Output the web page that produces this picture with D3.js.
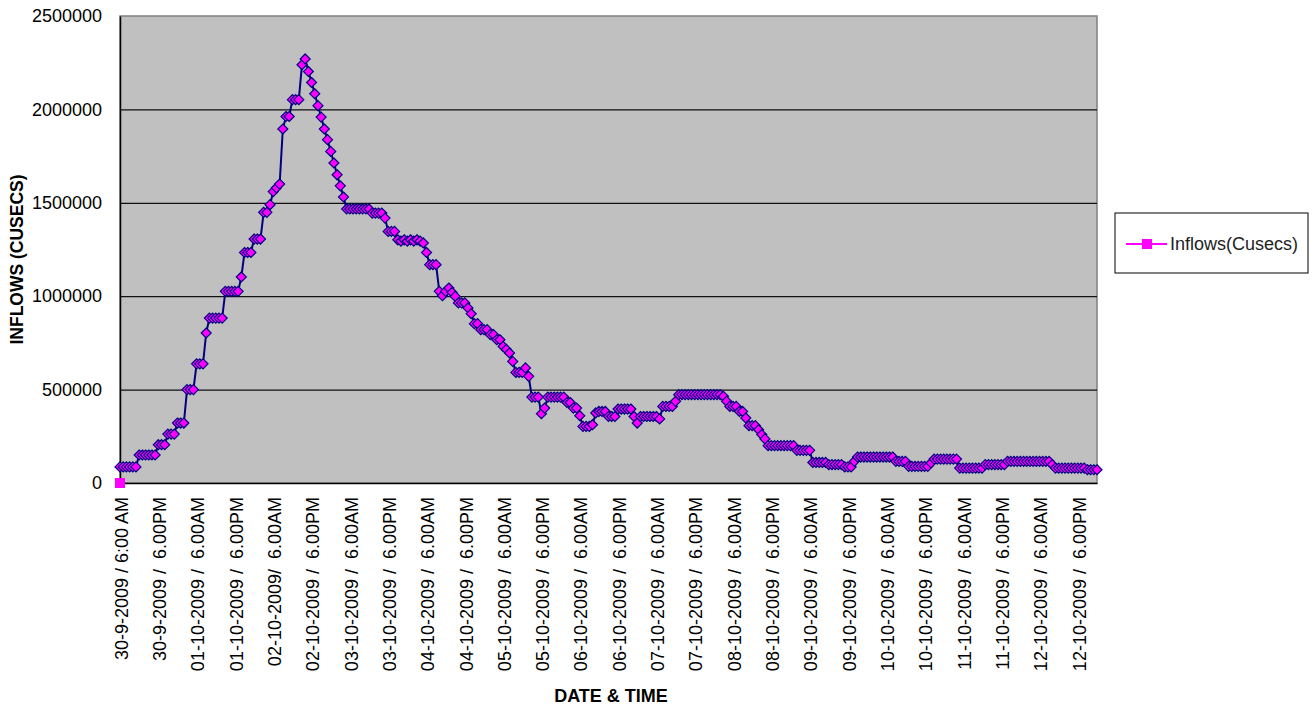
<!DOCTYPE html>
<html>
<head>
<meta charset="utf-8">
<script src="https://cdn.jsdelivr.net/npm/d3@7"></script>
<style>
  body { margin: 0; background: #fff; }
  text { font-family: Arial, 'Liberation Sans', sans-serif; }
</style>
</head>
<body>
<div id="d3chart"></div>
<script>
// DATA ===========================================================================================
// hourly inflows, 30-9-2009 6:00 AM onwards (one value per hour)
const inflows = [
  86000, 86000, 86000, 86000, 86000, 86000, 150000, 150000, 150000, 150000, 150000, 150000,
  205000, 205000, 205000, 262000, 262000, 262000, 321000, 321000, 321000, 500000, 500000, 500000,
  638000, 638000, 638000, 803000, 883000, 883000, 883000, 883000, 883000, 1026000, 1026000, 1026000,
  1026000, 1026000, 1103000, 1234000, 1234000, 1234000, 1306000, 1306000, 1306000, 1449000, 1449000, 1490000,
  1560000, 1580000, 1600000, 1895000, 1962000, 1962000, 2052000, 2052000, 2052000, 2239000, 2270000, 2203000,
  2144000, 2084000, 2020000, 1959000, 1895000, 1838000, 1775000, 1713000, 1650000, 1591000, 1531000, 1467000,
  1467000, 1467000, 1467000, 1467000, 1467000, 1467000, 1467000, 1445000, 1445000, 1445000, 1445000, 1418000,
  1347000, 1347000, 1347000, 1302000, 1295000, 1302000, 1295000, 1302000, 1295000, 1302000, 1295000, 1285000,
  1234000, 1169000, 1169000, 1169000, 1026000, 1003000, 1026000, 1044000, 1020000, 999000, 964000, 964000,
  964000, 937000, 906000, 853000, 853000, 821000, 821000, 821000, 794000, 794000, 767000, 767000,
  731000, 715000, 696000, 651000, 592000, 592000, 592000, 616000, 571000, 460000, 460000, 460000,
  371000, 401000, 460000, 460000, 460000, 460000, 460000, 460000, 431000, 431000, 401000, 401000,
  360000, 303000, 303000, 303000, 312000, 375000, 383000, 383000, 383000, 356000, 356000, 356000,
  396000, 396000, 396000, 396000, 396000, 356000, 321000, 356000, 356000, 356000, 356000, 356000,
  356000, 343000, 410000, 410000, 410000, 410000, 437000, 473000, 473000, 473000, 473000, 473000,
  473000, 473000, 473000, 473000, 473000, 473000, 473000, 473000, 473000, 464000, 437000, 410000,
  410000, 410000, 383000, 383000, 348000, 307000, 307000, 307000, 285000, 259000, 236000, 200000,
  200000, 200000, 200000, 200000, 200000, 200000, 200000, 200000, 175000, 175000, 175000, 175000,
  175000, 110000, 110000, 110000, 110000, 110000, 98000, 98000, 98000, 98000, 98000, 86000,
  86000, 86000, 116000, 139000, 139000, 139000, 139000, 139000, 139000, 139000, 139000, 139000,
  139000, 139000, 139000, 116000, 116000, 116000, 116000, 89000, 89000, 89000, 89000, 89000,
  89000, 89000, 107000, 128000, 128000, 128000, 128000, 128000, 128000, 128000, 128000, 80000,
  80000, 80000, 80000, 80000, 80000, 80000, 80000, 98000, 98000, 98000, 98000, 98000,
  98000, 98000, 116000, 116000, 116000, 116000, 116000, 116000, 116000, 116000, 116000, 116000,
  116000, 116000, 116000, 116000, 98000, 80000, 80000, 80000, 80000, 80000, 80000, 80000,
  80000, 80000, 80000, 71000, 71000, 71000, 71000
]

// legend series: only its first point (0) is plotted
const legendSeries = [0]
const seriesName = 'Inflows(Cusecs)'

const tickLabels = [
  '30-9-2009 / 6:00 AM', '30-9-2009 /  6.00PM',
  '01-10-2009 /  6.00AM', '01-10-2009 /  6.00PM',
  '02-10-2009/  6.00AM', '02-10-2009 /  6.00PM',
  '03-10-2009 /  6.00AM', '03-10-2009 /  6.00PM',
  '04-10-2009 /  6.00AM', '04-10-2009 /  6.00PM',
  '05-10-2009 /  6.00AM', '05-10-2009 /  6.00PM',
  '06-10-2009 /  6.00AM', '06-10-2009 /  6.00PM',
  '07-10-2009 /  6.00AM', '07-10-2009 /  6.00PM',
  '08-10-2009 /  6.00AM', '08-10-2009 /  6.00PM',
  '09-10-2009 /  6.00AM', '09-10-2009 /  6.00PM',
  '10-10-2009 /  6.00AM', '10-10-2009 /  6.00PM',
  '11-10-2009 /  6.00AM', '11-10-2009 /  6.00PM',
  '12-10-2009 /  6.00AM', '12-10-2009 /  6.00PM'
]
const yTicks = [0, 500000, 1000000, 1500000, 2000000, 2500000]
const labelEvery = 12

function draw() {
  // SET UP =========================================================================================
  const dimensions = {top: 16, bottom: 225, left: 120, right: 217}
  const width = 1314
  const height = 708
  const ctr_width = width - dimensions.left - dimensions.right
  const ctr_height = height - dimensions.top - dimensions.bottom

  const root = d3.select('#d3chart')
    .append('svg')
    .attr('width', width)
    .attr('height', height)

  const svg = root.append('g')
    .attr('transform', `translate(${dimensions.left}, ${dimensions.top})`)

  // SCALES AND AXES ================================================================================
  const x = d3.scaleLinear()
    .domain([0, inflows.length - 1])
    .range([0, ctr_width])

  const y = d3.scaleLinear()
    .domain([0, 2500000])
    .range([ctr_height, 0])

  // plot area
  svg.append('rect')
    .attr('width', ctr_width)
    .attr('height', ctr_height)
    .attr('fill', '#c0c0c0')
    .attr('stroke', '#808080')
    .attr('stroke-width', 1.5)

  // gridlines
  svg.append('g')
    .call(d3.axisLeft(y).tickValues(yTicks.slice(1, -1)).tickSize(-ctr_width).tickFormat(''))
    .call(g => g.select('.domain').remove())
    .selectAll('line')
      .attr('stroke', '#111')
      .attr('stroke-width', 1.2)

  // y axis
  svg.append('g')
    .call(d3.axisLeft(y).tickValues(yTicks).tickSize(0).tickPadding(18).tickFormat(d3.format('d')))
    .call(g => g.select('.domain').attr('stroke', '#000').attr('stroke-width', 1.5))
    .selectAll('text')
      .attr('font-size', 18)
      .attr('fill', '#000')
      .style('font-family', 'Arial, "Liberation Sans", sans-serif')

  // x axis
  svg.append('g')
    .attr('transform', `translate(0, ${ctr_height})`)
    .call(d3.axisBottom(x)
      .tickValues(d3.range(0, inflows.length, labelEvery))
      .tickSize(0)
      .tickFormat((d, i) => tickLabels[i]))
    .call(g => g.select('.domain').attr('stroke', '#000').attr('stroke-width', 1.5))
    .selectAll('text')
      .attr('transform', 'rotate(-90)')
      .attr('x', -14)
      .attr('y', 0)
      .attr('dy', '0.4em')
      .attr('text-anchor', 'end')
      .attr('font-size', 18)
      .attr('fill', '#000')
      .style('font-family', 'Arial, "Liberation Sans", sans-serif')
      .style('white-space', 'pre')

  // MARKS ==========================================================================================
  svg.append('path')
    .datum(inflows)
    .attr('fill', 'none')
    .attr('stroke', '#000080')
    .attr('stroke-width', 2)
    .attr('d', d3.line().x((d, i) => x(i)).y(d => y(d)))

  const diamond = 'M0,-5L5,0L0,5L-5,0Z'
  svg.selectAll('.pt')
    .data(inflows)
    .join('path')
      .attr('class', 'pt')
      .attr('transform', (d, i) => `translate(${x(i)}, ${y(d)})`)
      .attr('d', diamond)
      .attr('fill', '#ff00ff')
      .attr('stroke', '#000080')
      .attr('stroke-width', 1.2)

  svg.selectAll('.sq')
    .data(legendSeries)
    .join('rect')
      .attr('class', 'sq')
      .attr('x', (d, i) => x(i) - 5)
      .attr('y', d => y(d) - 5)
      .attr('width', 10)
      .attr('height', 10)
      .attr('fill', '#ff00ff')

  // TITLES =========================================================================================
  root.append('text')
    .attr('transform', `translate(23, ${dimensions.top + ctr_height / 2 + 10}) rotate(-90)`)
    .attr('text-anchor', 'middle')
    .attr('font-size', 17.5)
    .attr('font-weight', 'bold')
    .text('INFLOWS (CUSECS)')

  root.append('text')
    .attr('x', 611)
    .attr('y', 702)
    .attr('text-anchor', 'middle')
    .attr('font-size', 18)
    .attr('font-weight', 'bold')
    .text('DATE & TIME')

  // LEGEND =========================================================================================
  const legend = root.append('g').attr('transform', 'translate(1115, 213)')
  legend.append('rect')
    .attr('width', 193)
    .attr('height', 60)
    .attr('fill', '#fff')
    .attr('stroke', '#000')
  legend.append('line')
    .attr('x1', 11).attr('x2', 52)
    .attr('y1', 31).attr('y2', 31)
    .attr('stroke', '#ff00ff')
    .attr('stroke-width', 2)
  legend.append('rect')
    .attr('x', 27).attr('y', 26)
    .attr('width', 10).attr('height', 10)
    .attr('fill', '#ff00ff')
  legend.append('text')
    .attr('x', 55)
    .attr('y', 31)
    .attr('dy', '0.35em')
    .attr('font-size', 18)
    .attr('fill', '#222')
    .text(seriesName)
}

draw()
</script>
</body>
</html>
